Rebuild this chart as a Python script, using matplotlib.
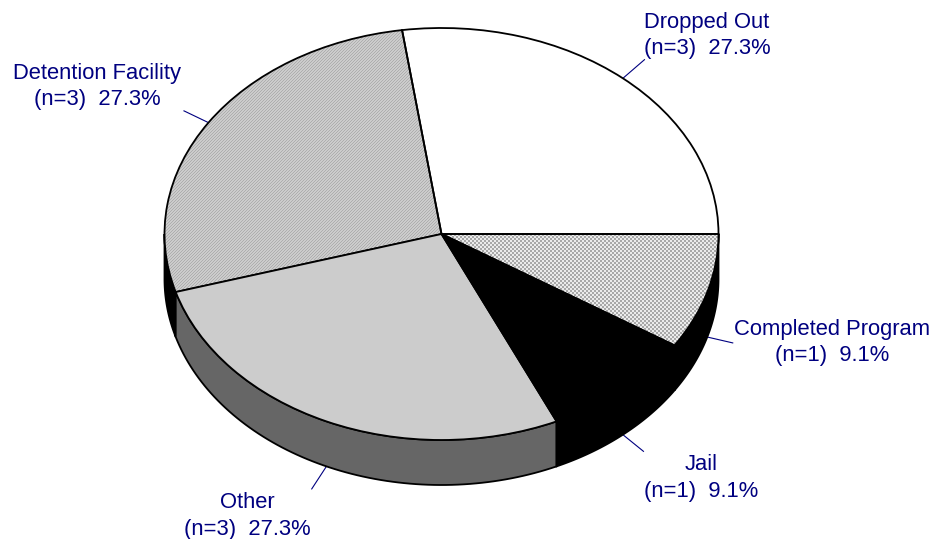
import numpy as np
import matplotlib
matplotlib.use("Agg")
import matplotlib.pyplot as plt
from matplotlib.patches import Polygon

categories = ["Dropped Out", "Detention Facility", "Other", "Jail", "Completed Program"]
counts = [3, 3, 3, 1, 1]
percents = ["27.3%", "27.3%", "27.3%", "9.1%", "9.1%"]

W, H = 933, 539
CX, CY, RX, RY = 441.5, 234.0, 277.0, 206.0
DEPTH = 45.0 / RY
NAVY = "#000080"

plt.rcParams["font.family"] = ["Liberation Sans", "DejaVu Sans"]
fig = plt.figure(figsize=(W / 100, H / 100), dpi=100)
ax = fig.add_axes([0, 0, 1, 1])

face_colors = ["white", "none", "#cccccc", "black", "none"]
side_colors = [None, "black", "#666666", "black", "black"]
wedges, _ = ax.pie(counts, startangle=0, counterclock=True, radius=1,
                   colors=face_colors, normalize=True,
                   wedgeprops=dict(edgecolor="black", linewidth=1.3))
ax.set_aspect("auto")
xlim = (-CX / RX, (W - CX) / RX)
ylim = (-(H - CY) / RY, CY / RY)

# fine dithered fills of the two textured slices
yy, xx = np.mgrid[0:H, 0:W]
checker = np.where((xx // 2 + yy // 2) % 2 == 0, 0.66, 0.92)
diagonal = np.where((xx + yy) % 3 == 0, 0.68, 0.80)
extent = (xlim[0], xlim[1], ylim[0], ylim[1])
for tex, wedge in ((checker, wedges[4]), (diagonal, wedges[1])):
    im = ax.imshow(tex, cmap="gray", vmin=0, vmax=1, extent=extent, origin="upper",
                   aspect="auto", interpolation="nearest", zorder=0.5)
    im.set_clip_path(wedge)

# extruded side wall, from the slice angles (counter-clockwise from east)
bounds = np.concatenate([[0], np.cumsum(counts)]) / np.sum(counts) * 360.0
for a, b, col in zip(bounds[:-1], bounds[1:], side_colors):
    lo, hi = max(a, 180.0), min(b, 360.0)
    if col is None or lo >= hi:
        continue
    t = np.radians(np.linspace(lo, hi, 80))
    top = np.column_stack([np.cos(t), np.sin(t)])
    bot = top[::-1] - [0, DEPTH]
    ax.add_patch(Polygon(np.vstack([top, bot]), closed=True, facecolor=col,
                         edgecolor="black", linewidth=1.3, zorder=0.4))

ax.set_xlim(xlim)
ax.set_ylim(ylim)
ax.axis("off")

# leader lines start at each slice's mid-angle; visible-wall slices start on the lower rim
mids = np.radians((bounds[:-1] + bounds[1:]) / 2)
on_wall = [False, False, True, True, True]
leader_px = [(22, -19), (-25, -12), (-15, 23), (21, 17), (26, 6)]
label_px = [(707, 22.5), (97, 73.5), (247, 503), (701, 465), (832, 329.5)]
LINE_GAP = 26
for i, cat in enumerate(categories):
    x0, y0 = np.cos(mids[i]), np.sin(mids[i]) - (DEPTH if on_wall[i] else 0)
    dx, dy = leader_px[i]
    ax.plot([x0, x0 + dx / RX], [y0, y0 - dy / RY], color=NAVY, lw=0.8,
            zorder=0.3, solid_capstyle="butt")
    lx, ly = label_px[i]
    fig.text(lx / W, 1 - ly / H, cat, color=NAVY, fontsize=15.8, ha="center", va="center")
    fig.text(lx / W, 1 - (ly + LINE_GAP) / H, f"(n={counts[i]})  {percents[i]}",
             color=NAVY, fontsize=15.8, ha="center", va="center")

fig.savefig("out.png", dpi=100)
